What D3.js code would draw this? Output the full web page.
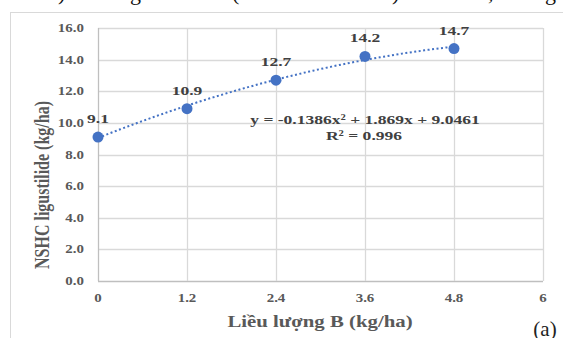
<!DOCTYPE html>
<html><head><meta charset="utf-8">
<script src="https://cdn.jsdelivr.net/npm/d3@7"></script>
<style>body{margin:0;background:#fff}svg{display:block}</style>
</head><body>
<svg id="c" width="563" height="338"></svg>
<script>
const doses = [0, 1.2, 2.4, 3.6, 4.8];
const yields = [9.1, 10.9, 12.7, 14.2, 14.7];
const yieldLabels = ["9.1", "10.9", "12.7", "14.2", "14.7"];
const xTicks = [0, 1.2, 2.4, 3.6, 4.8, 6];
const xTickLabels = ["0", "1.2", "2.4", "3.6", "4.8", "6"];
const yTicks = [0, 2, 4, 6, 8, 10, 12, 14, 16];
const trendCoef = [9.0461, 1.869, -0.1386]; // c0, c1, c2
const equationText = "y = -0.1386x² + 1.869x + 9.0461";
const r2Text = "R² = 0.996";
const xTitle = "Liều lượng B (kg/ha)";
const yTitle = "NSHC ligustilide  (kg/ha)";
const panelLabel = "(a)";

const svg = d3.select("#c");
const serif = "'Liberation Serif','Times New Roman',serif";
const SX = 1.3;
const x = d3.scaleLinear().domain([0, 6]).range([98, 543]);
const y = d3.scaleLinear().domain([0, 16]).range([281, 28]);

// cropped caption line above
const frag = [[58, ")"], [130, "g"], [232, "("], [392, ")"], [488, ","], [545, "g"]];
svg.selectAll("text.frag").data(frag).enter().append("text")
  .attr("x", d => d[0]).attr("y", 0)
  .attr("font-family", serif).attr("font-size", 22).attr("fill", "#111")
  .text(d => d[1]);

// frame
svg.append("line").attr("x1", 10.5).attr("x2", 10.5).attr("y1", 12).attr("y2", 338).attr("stroke", "#d9d9d9");
svg.append("line").attr("x1", 10).attr("x2", 563).attr("y1", 12.5).attr("y2", 12.5).attr("stroke", "#d9d9d9");

// grid
const g = svg.append("g");
g.selectAll("line.h").data(yTicks).enter().append("line")
  .attr("x1", x(0)).attr("x2", x(6))
  .attr("y1", d => Math.round(y(d)) + 0.5).attr("y2", d => Math.round(y(d)) + 0.5)
  .attr("stroke", d => d === 0 ? "#bfbfbf" : "#d9d9d9").attr("stroke-width", 1.3);
g.selectAll("line.v").data(xTicks).enter().append("line")
  .attr("y1", y(16)).attr("y2", y(0))
  .attr("x1", d => Math.round(x(d)) + 0.5).attr("x2", d => Math.round(x(d)) + 0.5)
  .attr("stroke", d => d === 0 ? "#bfbfbf" : "#d9d9d9").attr("stroke-width", 1.3);

function stext(sel, tx, ty, anchor, size, txt, opts = {}) {
  return sel.append("text")
    .attr("transform", `translate(${tx},${ty}) scale(${SX},1)` + (opts.rot ? ` rotate(${opts.rot})` : ""))
    .attr("text-anchor", anchor)
    .attr("font-family", serif).attr("font-size", size)
    .attr("font-weight", opts.weight || "bold")
    .attr("fill", opts.fill || "#595959")
    .text(txt);
}

// tick labels
yTicks.forEach(t => stext(svg, 84, y(t) + 4, "end", 11.5, t.toFixed(1)));
xTicks.forEach((t, i) => stext(svg, x(t), 302, "middle", 11.5, xTickLabels[i]));

// trendline
const xs = d3.range(0, 4.8001, 0.05);
const line = d3.line().x(d => x(d)).y(d => y(trendCoef[0] + trendCoef[1] * d + trendCoef[2] * d * d));
svg.append("path").attr("d", line(xs)).attr("fill", "none")
  .attr("stroke", "#4472c4").attr("stroke-width", 2).attr("stroke-dasharray", "2,2.5");

// points
svg.selectAll("circle").data(doses).enter().append("circle")
  .attr("cx", d => x(d)).attr("cy", (d, i) => y(yields[i])).attr("r", 5.5)
  .attr("fill", "#4472c4");

// data labels
doses.forEach((d, i) => stext(svg, x(d), y(yields[i]) - 14, "middle", 13.5, yieldLabels[i], {fill: "#404040"}));

// equation
stext(svg, 365, 124, "middle", 13.5, equationText, {fill: "#404040"});
stext(svg, 364, 140, "middle", 13.5, r2Text, {fill: "#404040"});

// axis titles
stext(svg, 320, 327, "middle", 16, xTitle);
svg.append("text")
  .attr("transform", `translate(49,185) scale(${SX},1) rotate(-90)`)
  .attr("text-anchor", "middle").attr("font-family", serif).attr("font-size", 16)
  .attr("font-weight", "bold").attr("fill", "#595959").text(yTitle);

// panel label
svg.append("text").attr("x", 545).attr("y", 336).attr("text-anchor", "middle")
  .attr("font-family", serif).attr("font-size", 21).attr("fill", "#222").text(panelLabel);
</script>
</body></html>
